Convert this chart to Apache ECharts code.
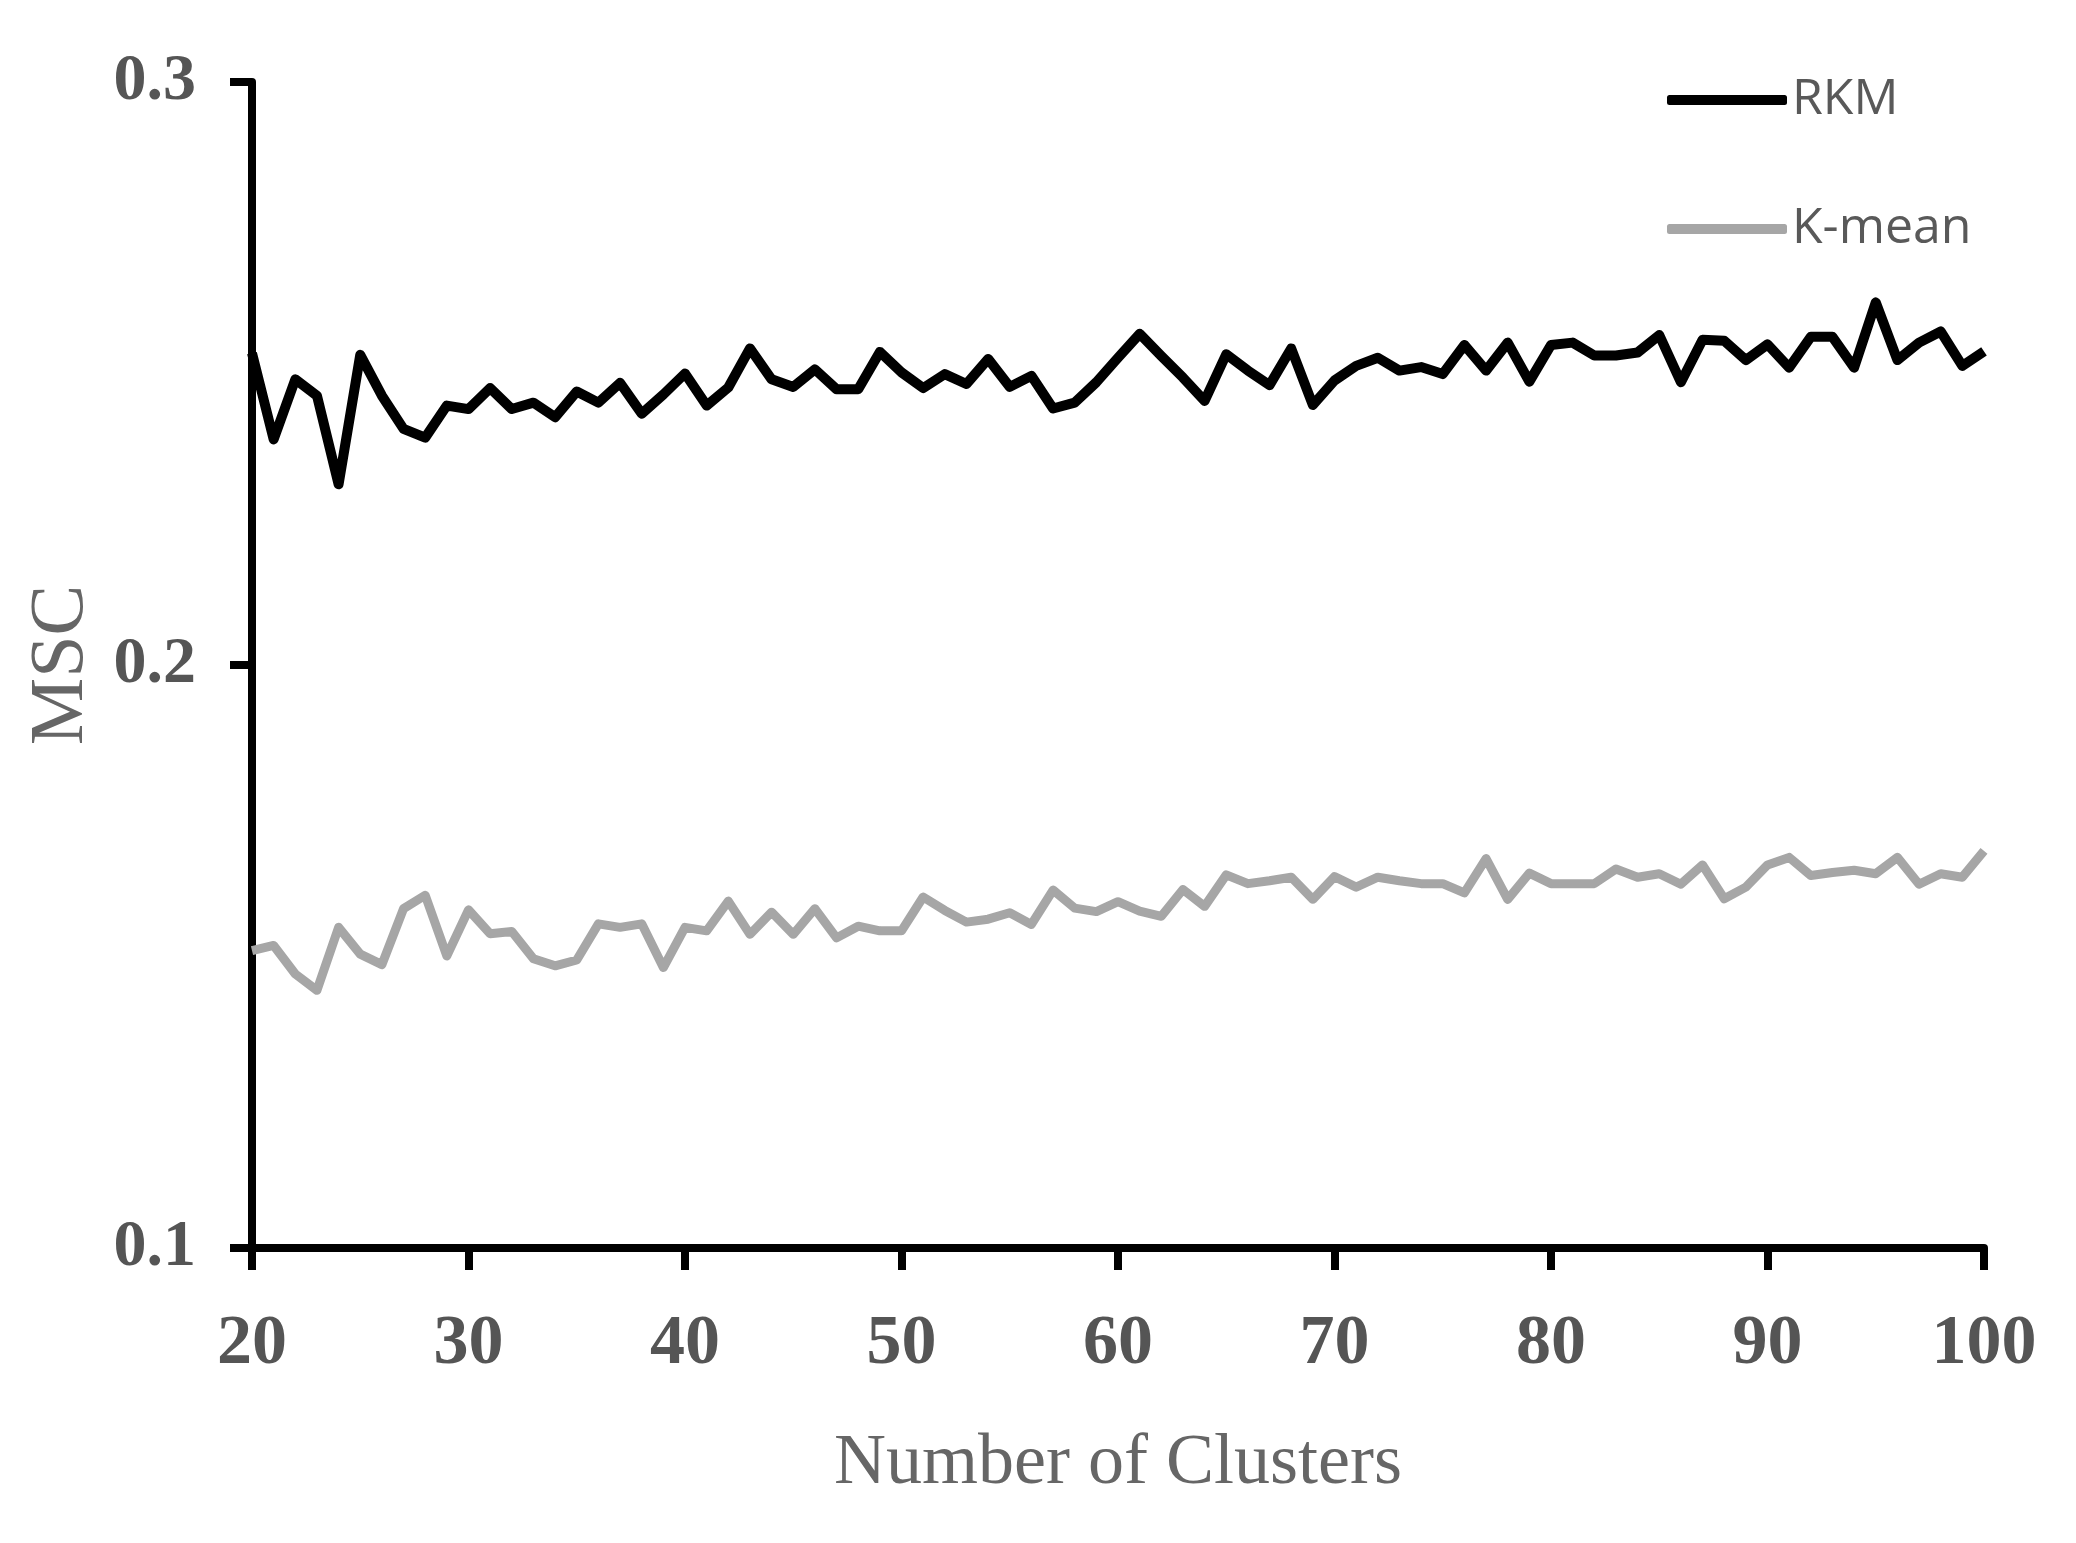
<!DOCTYPE html>
<html>
<head>
<meta charset="utf-8">
<script src="https://cdn.jsdelivr.net/npm/echarts@6/dist/echarts.min.js"></script>
<style>
html,body{margin:0;padding:0;background:#fff;}
#chart{width:2076px;height:1543px;}
</style>
</head>
<body>
<div id="chart"></div>
<script>
const clusters = [20,21,22,23,24,25,26,27,28,29,30,31,32,33,34,35,36,37,38,39,40,41,42,43,44,45,46,47,48,49,50,51,52,53,54,55,56,57,58,59,60,61,62,63,64,65,66,67,68,69,70,71,72,73,74,75,76,77,78,79,80,81,82,83,84,85,86,87,88,89,90,91,92,93,94,95,96,97,98,99,100];
const rkm = [0.2535,0.2387,0.2490,0.2462,0.2310,0.2532,0.2462,0.2405,0.2390,0.2445,0.2439,0.2475,0.2439,0.2450,0.2425,0.2469,0.2450,0.2484,0.2431,0.2464,0.2500,0.2445,0.2476,0.2543,0.2490,0.2477,0.2507,0.2473,0.2473,0.2537,0.2502,0.2475,0.2499,0.2482,0.2525,0.2477,0.2496,0.2440,0.2450,0.2485,0.2527,0.2568,0.2530,0.2493,0.2453,0.2533,0.2505,0.2480,0.2543,0.2446,0.2488,0.2513,0.2527,0.2505,0.2511,0.2499,0.2549,0.2505,0.2553,0.2486,0.2549,0.2553,0.2531,0.2531,0.2536,0.2566,0.2485,0.2558,0.2556,0.2523,0.2550,0.2510,0.2563,0.2563,0.2510,0.2622,0.2523,0.2553,0.2572,0.2513,0.2538];
const kmean = [0.1510,0.1519,0.1470,0.1442,0.1550,0.1504,0.1486,0.1582,0.1605,0.1501,0.1580,0.1539,0.1543,0.1496,0.1484,0.1494,0.1556,0.1550,0.1556,0.1481,0.1550,0.1544,0.1595,0.1538,0.1576,0.1538,0.1582,0.1532,0.1552,0.1544,0.1544,0.1602,0.1579,0.1559,0.1564,0.1575,0.1555,0.1614,0.1583,0.1577,0.1594,0.1578,0.1569,0.1615,0.1586,0.1640,0.1625,0.1630,0.1636,0.1598,0.1637,0.1619,0.1636,0.1630,0.1625,0.1625,0.1609,0.1668,0.1598,0.1643,0.1625,0.1625,0.1625,0.1650,0.1636,0.1642,0.1624,0.1657,0.1599,0.1619,0.1657,0.1670,0.1639,0.1644,0.1648,0.1642,0.1670,0.1624,0.1642,0.1636,0.1681];
const seriesNames = ['RKM','K-mean'];
const xTicks = {min:20, max:100, interval:10};
const yTicks = {min:0.1, max:0.3, interval:0.1};

const chart = echarts.init(document.getElementById('chart'), null, {renderer:'canvas'});
const serif = "'Liberation Serif','Times New Roman',serif";
chart.setOption({
  animation:false,
  backgroundColor:'#ffffff',
  grid:{left:252, right:92, top:82, bottom:295, containLabel:false},
  legend:{
    orient:'vertical', left:1662, top:70,
    icon:'roundRect',
    itemWidth:120, itemHeight:10, itemGap:79,
    textStyle:{fontFamily:"'Open Sans',sans-serif", fontSize:50, color:'#595959', padding:[0,0,0,0]},
    data:seriesNames
  },
  xAxis:{
    type:'value', min:xTicks.min, max:xTicks.max, interval:xTicks.interval,
    name:'Number of Clusters', nameLocation:'middle', nameGap:180,
    nameTextStyle:{fontFamily:serif, fontSize:72, color:'#666666'},
    axisLine:{show:true, lineStyle:{color:'#000', width:8, cap:'round'}},
    axisTick:{show:true, length:22, lineStyle:{color:'#000', width:8}},
    axisLabel:{margin:62, fontFamily:serif, fontWeight:'bold', fontSize:70, color:'#555555'},
    splitLine:{show:false}
  },
  yAxis:{
    type:'value', min:yTicks.min, max:yTicks.max, interval:yTicks.interval,
    name:'MSC', nameLocation:'middle', nameGap:152,
    nameTextStyle:{fontFamily:serif, fontSize:76, color:'#666666'},
    axisLine:{show:true, lineStyle:{color:'#000', width:8, cap:'round'}},
    axisTick:{show:true, length:22, lineStyle:{color:'#000', width:8}},
    axisLabel:{margin:56, fontFamily:serif, fontWeight:'bold', fontSize:66, color:'#555555',
      formatter:function(v){return v.toFixed(1);}},
    splitLine:{show:false}
  },
  series:[
    {name:seriesNames[0], type:'line', symbol:'none', z:3,
     data:clusters.map((c,i)=>[c,rkm[i]]),
     lineStyle:{color:'#000000', width:10, join:'round'}, itemStyle:{color:'#000000'}},
    {name:seriesNames[1], type:'line', symbol:'none', z:2,
     data:clusters.map((c,i)=>[c,kmean[i]]),
     lineStyle:{color:'#a6a6a6', width:9, join:'round'}, itemStyle:{color:'#a6a6a6'}}
  ]
});
</script>
</body>
</html>
